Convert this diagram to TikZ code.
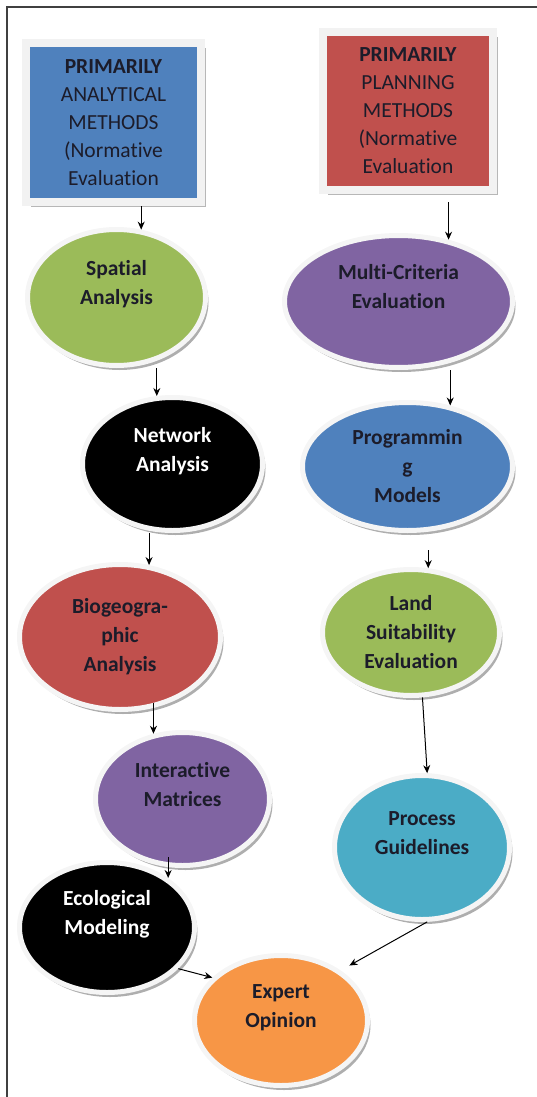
\documentclass[tikz,border=0pt]{standalone}
\usepackage{fontspec}
\setmainfont{Carlito}[Ligatures=NoCommon]
\usetikzlibrary{shapes.geometric,shadows,arrows.meta}
\definecolor{boxblue}{HTML}{4F81BD}
\definecolor{boxred}{HTML}{C0504D}
\definecolor{olgreen}{HTML}{9BBB59}
\definecolor{lavender}{HTML}{8064A2}
\definecolor{aqua}{HTML}{4BACC6}
\definecolor{tangerine}{HTML}{F79646}
\definecolor{inkdark}{HTML}{1C1C2A}
% lifts a two line label a little above the middle
\newcommand{\tailgap}{\\[-8pt]\strut}
\tikzset{
  methodbox/.style={rectangle, draw=gray!10, line width=8pt, inner sep=0pt, align=center,
    text=inkdark, font=\fontsize{21.5}{28}\selectfont,
    drop shadow={shadow xshift=5pt, shadow yshift=-5pt, fill=black!40, opacity=0.7}},
  bubble/.style={ellipse, draw=gray!8, line width=5pt, inner sep=0pt, align=center,
    text=inkdark, font=\fontsize{21.5}{29}\selectfont\bfseries,
    drop shadow={shadow xshift=3pt, shadow yshift=-4.5pt, fill=black!45, opacity=0.7}},
  arr/.style={-{Stealth[length=8pt,width=7pt]}, line width=1pt}
}
\begin{document}
\begin{tikzpicture}[x=1pt,y=-1pt]
            \useasboundingbox (0,0) rectangle (537,1097);
            \draw[line width=1.5pt, black!75] (7,1097) -- (7,7) -- (537,7);
            % the two kinds of methods
            \node[methodbox, fill=boxblue, minimum width=175pt, minimum height=159pt] (analytic) at (113.5,122.5) {\textbf{PRIMARILY}\\ANALYTICAL\\METHODS\\(Normative\\Evaluation};
            \node[methodbox, fill=boxred, minimum width=170pt, minimum height=158pt] (planning) at (408,111) {\textbf{PRIMARILY}\\PLANNING\\METHODS\\(Normative\\Evaluation};
            % analytical side
            \node[bubble, fill=olgreen, minimum width=178pt, minimum height=136pt] (spatial) at (116.5,297.5) {Spatial\\Analysis\tailgap};
            \node[bubble, fill=black, text=white, minimum width=180pt, minimum height=133pt] (network) at (172.5,464) {Network\\Analysis\tailgap};
            \node[bubble, fill=boxred, minimum width=201pt, minimum height=145pt] (bio) at (120,637) {Biogeogra-\\phic\\Analysis};
            \node[bubble, fill=lavender, minimum width=174pt, minimum height=133pt] (inter) at (182.5,799) {Interactive\\Matrices\tailgap};
            \node[bubble, fill=black, text=white, minimum width=175pt, minimum height=130pt] (eco) at (107,927.5) {Ecological\\Modeling\tailgap};
            % planning side
            \node[bubble, fill=lavender, minimum width=228pt, minimum height=132pt] (multi) at (398.5,301.5) {Multi-Criteria\\Evaluation\tailgap};
            \node[bubble, fill=boxblue, minimum width=210pt, minimum height=128pt] (program) at (407.5,466.5) {Programmin\\g\\Models};
            \node[bubble, fill=olgreen, minimum width=177pt, minimum height=126pt] (land) at (411,632.5) {Land\\Suitability\\Evaluation};
            \node[bubble, fill=aqua, minimum width=175pt, minimum height=144pt] (process) at (422,847.5) {Process\\Guidelines\tailgap};
            \node[bubble, fill=tangerine, minimum width=173pt, minimum height=130pt] (expert) at (281,1020.5) {Expert\\Opinion\tailgap};
            \draw[arr] (analytic.south -| spatial.70) -- (spatial.70);
            \draw[arr, shorten <=8pt] (planning.south -| multi.51) -- (multi.51);
            \draw[arr] (spatial.south -| network.103) -- (network.103);
            \draw[arr] (multi.south -| program.55) -- (program.55);
            \draw[arr] (network.south -| bio.68) -- (bio.68);
            \draw[arr, shorten <=17pt] (program.south -| land.75) -- (land.75);
            \draw[arr, shorten <=-9pt] (bio.south -| inter.114) -- (inter.114);
            \draw[arr] (land.-80) -- (process.86);
            \draw[arr, shorten <=-11pt] (inter.south -| eco.39) -- (eco.39);
            \draw[arr] (eco.-30) -- (expert.148);
            \draw[arr, shorten >=10pt] (process.-86) -- (expert.40);
        \end{tikzpicture}
\end{document}
